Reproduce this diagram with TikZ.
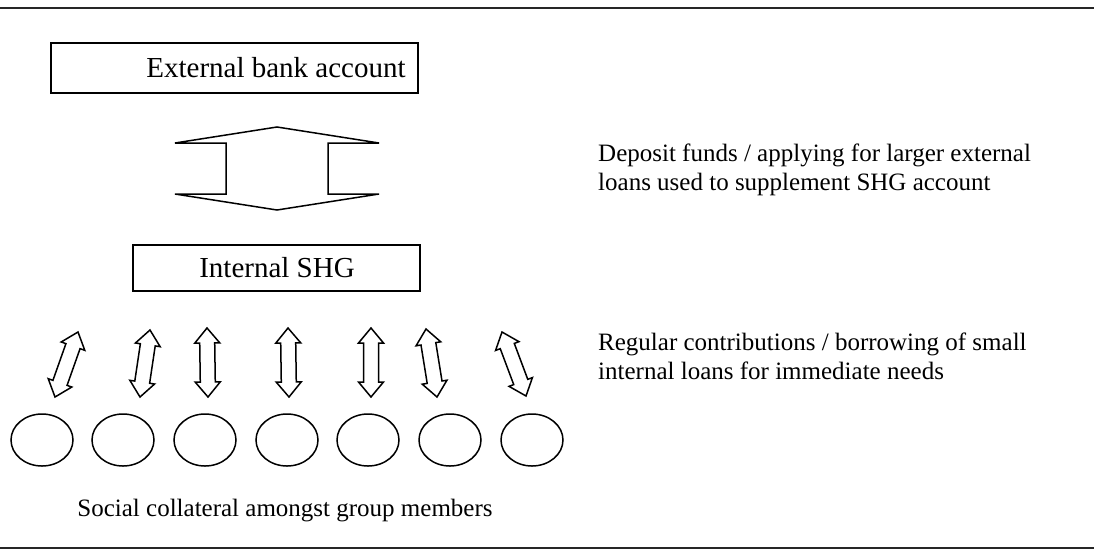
\documentclass[tikz,border=0pt]{standalone}
\usepackage{fontspec}
\setmainfont{Liberation Serif}
\usetikzlibrary{calc,shapes.geometric}
\newcommand\dblarrow[2]{%
  \draw[shapeline] (#1)
    -- ($(#1)!15pt!(#2)!12.5pt!90:(#2)$)
    -- ($(#1)!15pt!(#2)!7.5pt!90:(#2)$)
    -- ($(#2)!15pt!(#1)!7.5pt!-90:(#1)$)
    -- ($(#2)!15pt!(#1)!12.5pt!-90:(#1)$)
    -- (#2)
    -- ($(#2)!15pt!(#1)!12.5pt!90:(#1)$)
    -- ($(#2)!15pt!(#1)!7.5pt!90:(#1)$)
    -- ($(#1)!15pt!(#2)!7.5pt!-90:(#2)$)
    -- ($(#1)!15pt!(#2)!12.5pt!-90:(#2)$)
    -- cycle;}
\begin{document}
\begin{tikzpicture}[x=1pt,y=-1pt,
  shapeline/.style={draw=black, line width=1.5pt, line join=miter},
  boxnode/.style={draw=black, line width=1.5pt, rectangle, inner sep=0pt},
  boxtext/.style={font=\fontsize{29}{33}\selectfont, inner sep=0pt},
  note/.style={font=\fontsize{25}{29}\selectfont, align=left, inner sep=0pt, anchor=west},
  member/.style={draw=black, line width=1.5pt, ellipse, minimum width=62pt, minimum height=52pt, inner sep=0pt},
  rule/.style={draw=black!85, line width=2pt}
]
\useasboundingbox (0,0) rectangle (1094,550);
% horizontal rules
\coordinate (rtl) at (0,8);
\coordinate (rtr) at (1094,8);
\coordinate (rbl) at (0,548);
\coordinate (rbr) at (1094,548);
\draw[rule] (rtl) -- (rtr);
\draw[rule] (rbl) -- (rbr);

% boxes
\node[boxnode, minimum width=367pt, minimum height=50pt] (ext) at (234.5,68) {};
\node[boxtext] (exttext) at (276,68) {External bank account};
\node[boxnode, minimum width=287pt, minimum height=46pt] (int) at (276.5,268) {};
\node[boxtext] (inttext) at (277,268) {Internal SHG};

% big double arrow
\coordinate (bt) at (277,127);
\coordinate (bb) at (277,210);
\draw[shapeline] (bt) -- (379,143) -- (328,143) -- (328,194) -- (379,194) -- (bb)
  -- (175,194) -- (226,194) -- (226,143) -- (175,143) -- cycle;

% notes
\node[note] (n1) at (598,170) {Deposit funds / applying for larger external\\loans used to supplement SHG account};
\node[note] (n2) at (598,356) {Regular contributions / borrowing of small\\internal loans for immediate needs};

% members
\foreach \i/\x in {1/42,2/123,3/205,4/287,5/368,6/450,7/532}{
  \node[member] (m\i) at (\x,440) {};
}
\node[font=\fontsize{25}{29}\selectfont, inner sep=0pt] (coll) at (285,511) {Social collateral amongst group members};

% small double arrows
\foreach \i/\tx/\ty/\bx/\by in {1/78/332/55/397, 2/150/330/140/397, 3/207/328/208/397, 4/288/328/289/397, 5/371/328/371/397, 6/426/329/437/397, 7/502/332/526/396}{
  \coordinate (a\i) at (\tx,\ty);
  \coordinate (b\i) at (\bx,\by);
  \dblarrow{a\i}{b\i}
}
\end{tikzpicture}
\end{document}
